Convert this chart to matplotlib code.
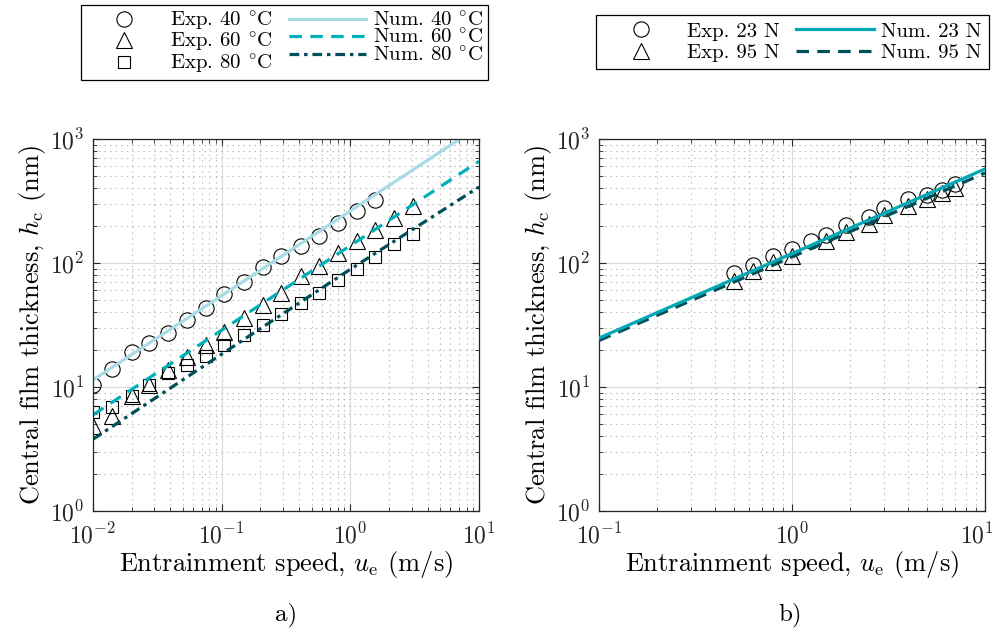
import numpy as np
import matplotlib
matplotlib.use("Agg")
import matplotlib.pyplot as plt
from matplotlib.ticker import LogLocator, LogFormatterMathtext, NullFormatter
from matplotlib.transforms import ScaledTranslation

plt.rcParams['font.family'] = ['cmr10', 'DejaVu Serif']
plt.rcParams['mathtext.fontset'] = 'cm'
plt.rcParams['axes.formatter.use_mathtext'] = True
plt.rcParams['lines.scale_dashes'] = False

# ---- panel a) data: temperature series ----
speed_a = [0.010, 0.014, 0.020, 0.027, 0.038, 0.054, 0.075, 0.105, 0.15, 0.21,
           0.29, 0.41, 0.57, 0.80, 1.12, 1.56, 2.19, 3.06]
exp_40 = [10.4, 14.0, 19.3, 22.6, 27.2, 34.4, 43.2, 56.1, 70.1, 92.1,
          113, 136, 166, 210, 264, 324]
exp_60 = [4.8, 5.8, 8.4, 10.4, 13.7, 17.6, 21.9, 28.0, 35.9, 46.0,
          57.2, 78.0, 93.8, 120, 151, 185, 230, 286]
exp_80 = [6.3, 6.9, 8.4, 10.4, 12.9, 15.1, 17.8, 21.9, 26.4, 31.7,
          38.7, 47.5, 57.2, 72.3, 89.3, 111, 143, 172]

num_speed_40 = [0.01, 0.1, 1.0, 7.1]
num_40 = [11.4, 54.5, 263, 1000]
num_speed_60 = [0.01, 0.1, 1.0, 10.0]
num_60 = [5.96, 28.7, 138, 661]
num_speed_80 = [0.01, 0.1, 1.0, 10.0]
num_80 = [3.79, 18.4, 89.0, 410]

# ---- panel b) data: load series ----
speed_23 = [0.5, 0.63, 0.8, 1.0, 1.25, 1.5, 1.9, 2.5, 3.0, 4.0, 5.0, 6.0, 7.0]
exp_23 = [82.9, 96.8, 113, 129, 151, 169, 204, 235, 277, 328, 356, 390, 436]
speed_95 = [0.5, 0.63, 0.8, 1.0, 1.5, 1.9, 2.5, 3.0, 4.0, 5.0, 6.0, 7.0]
exp_95 = [72, 86, 101, 114, 150, 178, 208, 245, 290, 330, 365, 400]

num_speed_b = [0.1, 1.0, 10.0]
num_23 = [24.8, 119, 573]
num_95 = [23.7, 112, 532]

c_light = '#a8dce4'
c_mid = '#00b0b9'
c_dark = '#004f59'
c_23 = '#00a9b5'

deg = r'$^{\circ}\mathrm{C}$'

fig = plt.figure(figsize=(9.98, 6.32), dpi=100)
ax1 = fig.add_axes([0.0932, 0.1915, 0.3868, 0.5886])
ax2 = fig.add_axes([0.6002, 0.1915, 0.3868, 0.5886])

mk = dict(linestyle='none', markerfacecolor='none', markeredgecolor='black',
          markeredgewidth=0.8)

h1, = ax1.plot(speed_a[:len(exp_40)], exp_40, marker='o', markersize=11, label='Exp. 40 ' + deg, **mk)
h2, = ax1.plot(speed_a, exp_60, marker='^', markersize=12, label='Exp. 60 ' + deg, **mk)
h3, = ax1.plot(speed_a, exp_80, marker='s', markersize=8.5, label='Exp. 80 ' + deg, **mk)
h4, = ax1.plot(num_speed_40, num_40, color=c_light, lw=2.3, label='Num. 40 ' + deg)
h5, = ax1.plot(num_speed_60, num_60, color=c_mid, lw=2.3, dashes=(9, 6), label='Num. 60 ' + deg)
h6, = ax1.plot(num_speed_80, num_80, color=c_dark, lw=2.3, dashes=(7, 3.5, 2.5, 3.5), label='Num. 80 ' + deg)

g1, = ax2.plot(speed_23, exp_23, marker='o', markersize=11, label='Exp. 23 N', **mk)
g2, = ax2.plot(speed_95, exp_95, marker='^', markersize=12, label='Exp. 95 N', **mk)
g3, = ax2.plot(num_speed_b, num_23, color=c_23, lw=2.3, label='Num. 23 N', zorder=4)
g4, = ax2.plot(num_speed_b, num_95, color=c_dark, lw=2.3, dashes=(9, 6), label='Num. 95 N', zorder=3)

for ax, xlim in ((ax1, (1e-2, 1e1)), (ax2, (1e-1, 1e1))):
    ax.set_xscale('log')
    ax.set_yscale('log')
    ax.set_xlim(*xlim)
    ax.set_ylim(1, 1e3)
    for axis in (ax.xaxis, ax.yaxis):
        axis.set_major_locator(LogLocator(base=10))
        axis.set_minor_locator(LogLocator(base=10, subs=np.arange(2, 10)))
        axis.set_major_formatter(LogFormatterMathtext())
        axis.set_minor_formatter(NullFormatter())
    ax.grid(True, which='major', color='#dadada', lw=0.8, linestyle='-')
    ax.grid(True, which='minor', color='#b8b8b8', lw=0.8, linestyle=(0, (1, 3)))
    ax.set_axisbelow(True)
    ax.tick_params(which='both', direction='in', top=True, right=True, labelsize=17, colors='#262626')
    ax.tick_params(which='major', length=5, width=0.8)
    ax.tick_params(which='minor', length=3, width=0.6)
    ax.tick_params(axis='x', which='major', pad=9)
    ax.tick_params(axis='y', which='major', pad=6)
    for s in ax.spines.values():
        s.set_linewidth(0.9)
        s.set_color('#262626')
    ax.set_xlabel(r'Entrainment speed, $u_\mathrm{e}$ (m/s)', fontsize=19, labelpad=0)
    ax.set_ylabel(r'Central film thickness, $h_\mathrm{c}$ (nm)', fontsize=19, labelpad=2)

leg_kw = dict(ncol=2, loc='center', fontsize=15, frameon=True, fancybox=False,
              edgecolor='black', handlelength=3.7, handletextpad=0.35,
              columnspacing=0.8)
l1 = ax1.legend(handles=[h1, h2, h3, h4, h5, h6], bbox_to_anchor=(0.285, 0.9328),
                bbox_transform=fig.transFigure, labelspacing=-0.08, borderpad=0.2, **leg_kw)
l2 = ax2.legend(handles=[g1, g2, g3, g4], bbox_to_anchor=(0.7936, 0.9335),
                bbox_transform=fig.transFigure, labelspacing=0.12, borderpad=0.35, **leg_kw)
for l in (l1, l2):
    l.get_frame().set_linewidth(0.9)
    l.get_frame().set_alpha(1)

fig.text(0.287, 0.027, 'a)', ha='center', va='center', fontsize=18)
fig.text(0.792, 0.027, 'b)', ha='center', va='center', fontsize=18)

# keep the last x tick label of panel b inside the figure
fig.canvas.draw()
for tick in ax2.xaxis.get_major_ticks():
    if np.isclose(tick.get_loc(), 10.0):
        lab = tick.label1
        lab.set_transform(lab.get_transform() + ScaledTranslation(-6 / 72, 0, fig.dpi_scale_trans))

fig.savefig('out.png', dpi=100)
